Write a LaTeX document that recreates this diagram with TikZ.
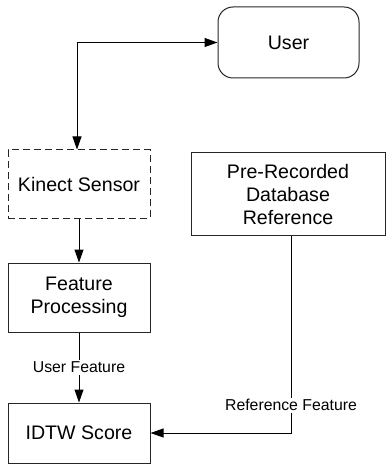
\documentclass[tikz,border=0pt]{standalone}
\usepackage{fontspec}
\setmainfont{Liberation Sans}
\usepackage{tikz}
\usetikzlibrary{arrows.meta}
\tikzset{%
    blk/.style={draw=black!85,line width=1pt,inner sep=0pt,align=center,
        font=\fontsize{19.6}{23}\selectfont},
    lbl/.style={fill=white,inner sep=1.5pt,font=\fontsize{15.8}{18}\selectfont},
    flow/.style={line width=1pt,-{Triangle[length=13pt,width=9pt]}}
}
\begin{document}
\begin{tikzpicture}[x=1pt,y=-1pt]
        \useasboundingbox (0,0) rectangle (386,465);
        \node[blk,rounded corners=15pt,minimum width=141pt,minimum height=71pt] (user) at (288.5,42.5){User};
        \node[blk,dash pattern=on 7pt off 4pt,minimum width=142pt,minimum height=68pt] (kinect) at (79,184){Kinect Sensor};
        \node[blk,minimum width=142pt,minimum height=69pt] (feat) at (79,297.5){Feature\\Processing};
        \node[blk,minimum width=142pt,minimum height=60pt] (idtw) at (79,433){IDTW Score};
        \node[blk,minimum width=194pt,minimum height=82pt] (ref) at (288,194){Pre-Recorded\\Database\\Reference};

        \draw[flow,{Triangle[length=13pt,width=9pt]}-{Triangle[length=13pt,width=9pt]}] (user.west) -| ([xshift=-2pt]kinect.north);
        \draw[flow] (kinect) -- (feat);
        \draw[flow] (feat) -- node[lbl]{User Feature} (idtw);
        \draw[flow] ([xshift=3pt]ref.south) |- node[lbl,pos=0.43]{Reference Feature} (idtw.east);
    \end{tikzpicture}
\end{document}
